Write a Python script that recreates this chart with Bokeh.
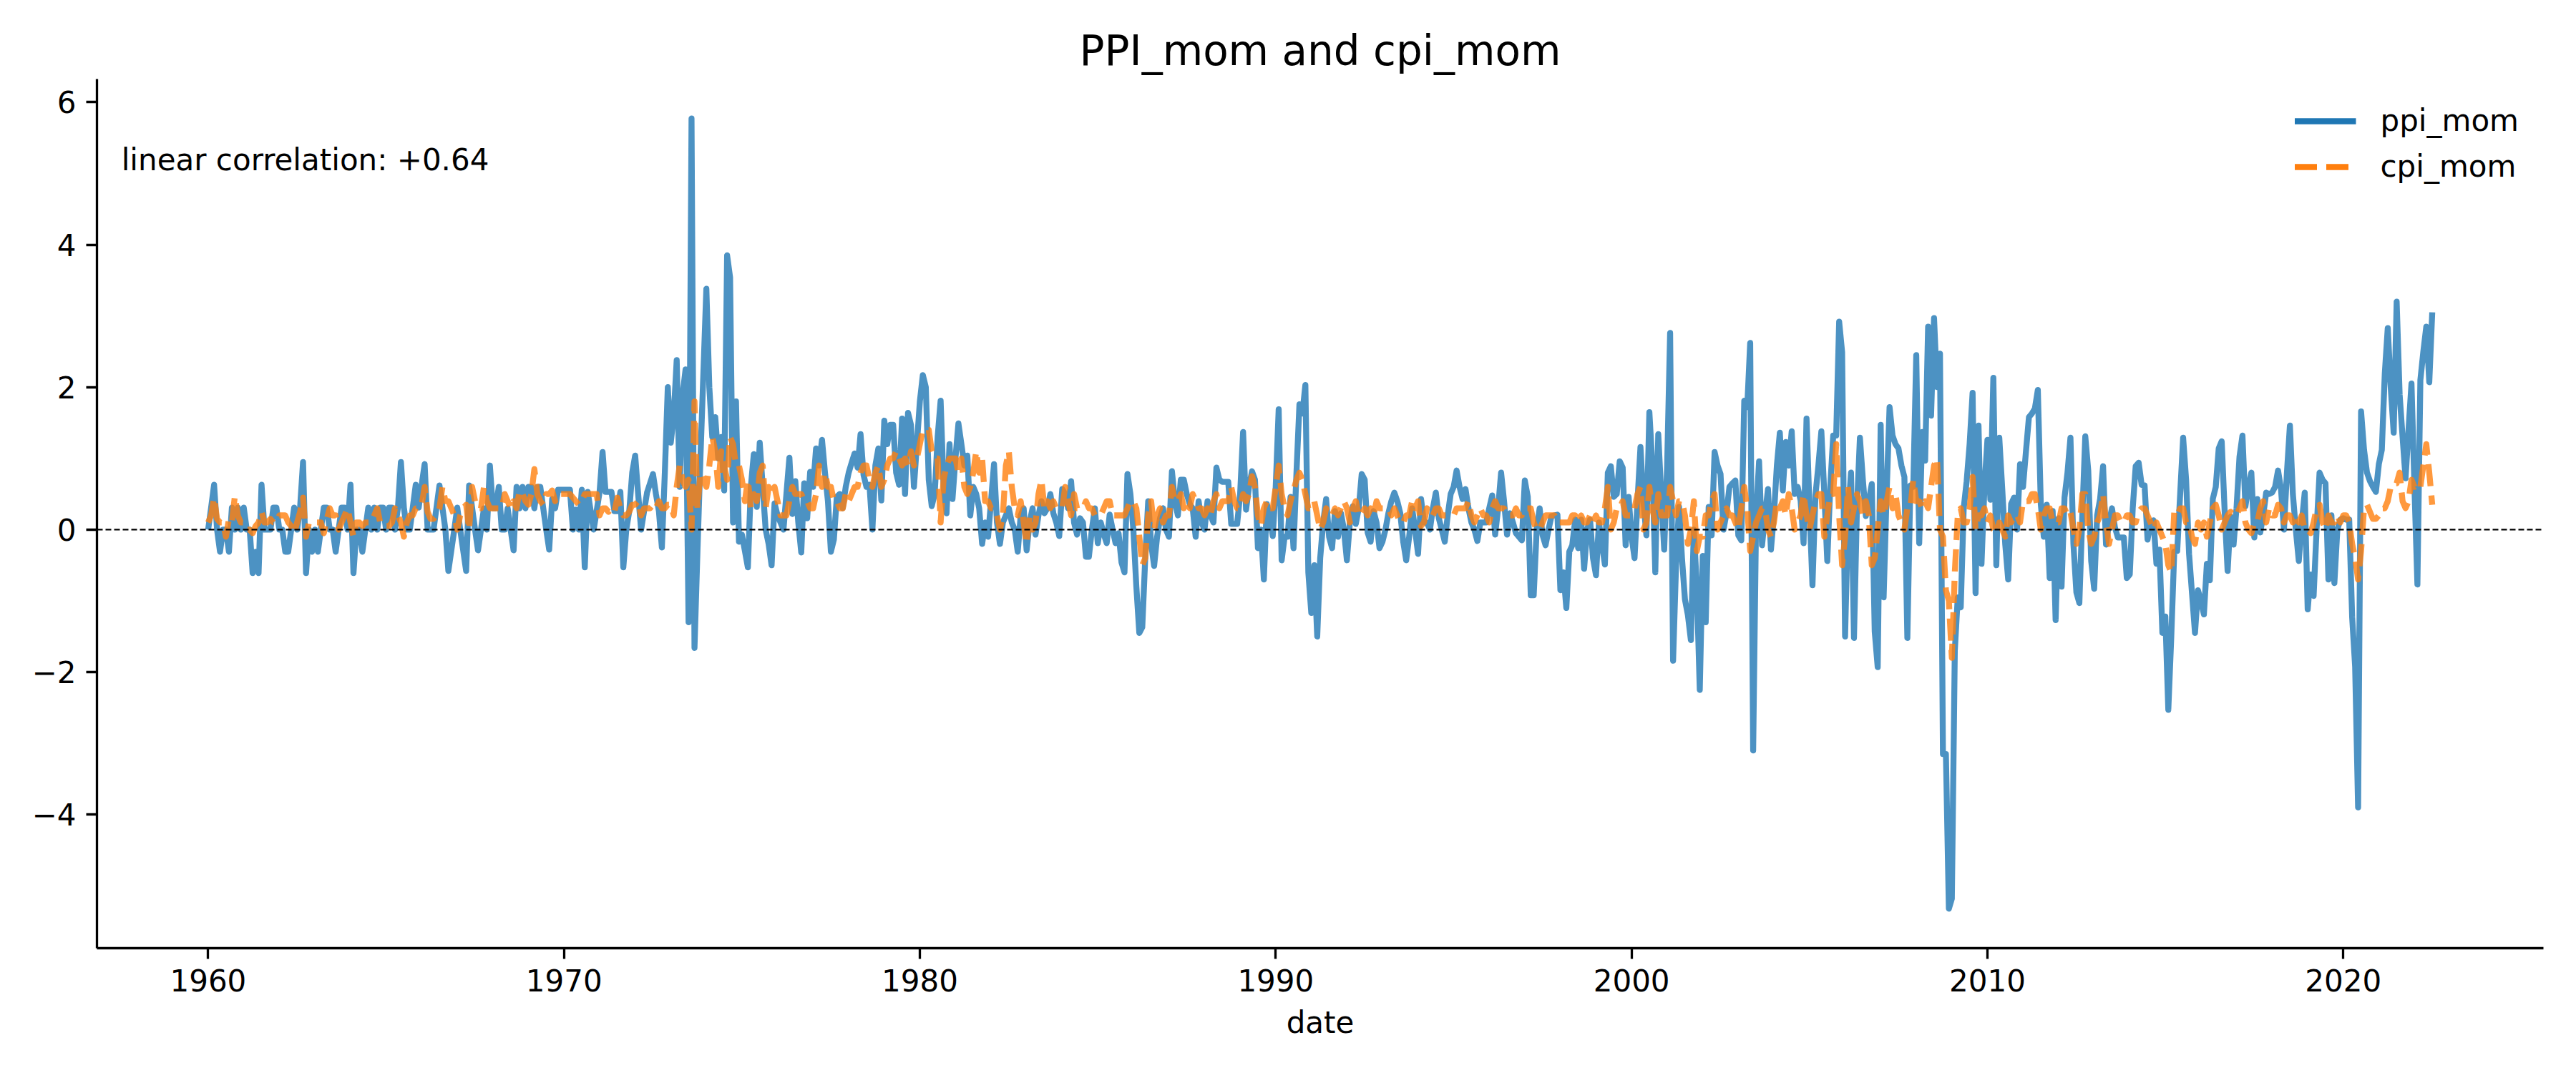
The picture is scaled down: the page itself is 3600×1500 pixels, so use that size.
from bokeh.plotting import figure
from bokeh.models import Range1d, FixedTicker, Span, Label, Legend, LegendItem
from bokeh.embed import file_html
from bokeh.resources import INLINE

# ---------------- data (monthly, % month-over-month) ----------------
start_year = 1960
title_text = "PPI_mom and cpi_mom"
corr_text = "linear correlation: +0.64"
x_label = "date"
series_names = ["ppi_mom", "cpi_mom"]
x_ticks = [1960, 1970, 1980, 1990, 2000, 2010, 2020]
y_ticks = [-4, -2, 0, 2, 4, 6]

ppi_1960s = [
    0.0, 0.31, 0.63, 0.0, -0.31, 0.0, 0.0, -0.31, 0.31, 0.0, 0.31, 0.0,
    0.31, 0.0, 0.0, -0.61, -0.31, -0.61, 0.63, 0.0, 0.0, 0.0, 0.31, 0.31,
    0.0, 0.0, -0.31, -0.31, 0.0, 0.31, 0.0, 0.31, 0.95, -0.61, 0.0, -0.31,
    0.0, -0.31, 0.0, 0.31, 0.31, 0.0, 0.0, -0.31, 0.0, 0.31, 0.31, 0.0,
    0.63, -0.61, 0.0, 0.0, -0.31, 0.0, 0.31, 0.0, 0.31, 0.0, 0.31, 0.31,
    0.0, 0.31, 0.31, 0.0, 0.31, 0.95, 0.31, 0.0, 0.0, 0.31, 0.63, 0.31,
    0.63, 0.92, 0.0, 0.0, 0.0, 0.31, 0.62, 0.31, 0.0, -0.58, -0.29, 0.0,
    0.31, 0.0, -0.29, -0.58, 0.62, 0.31, 0.0, -0.29, 0.0, 0.3, 0.0, 0.9,
    0.3, 0.3, 0.6, 0.0, 0.0, 0.3, 0.0, -0.29, 0.6, 0.3, 0.6, 0.3,
    0.6, 0.6, 0.3, 0.6, 0.6, 0.3, 0.0, -0.28, 0.43, 0.3, 0.56, 0.56,
]
ppi_1970s = [
    0.56, 0.56, 0.56, 0.0, 0.28, 0.0, 0.56, -0.53, 0.53, 0.26, 0.0, 0.26,
    0.53, 1.09, 0.53, 0.53, 0.53, 0.26, 0.26, 0.53, -0.53, 0.0, 0.26, 0.8,
    1.04, 0.5, 0.0, 0.26, 0.52, 0.65, 0.78, 0.5, 0.26, -0.25, 0.8, 2.0,
    1.22, 1.6, 2.38, 0.6, 1.9, 2.25, -1.3, 5.77, -1.66, -0.3, 1.0, 2.2,
    3.38, 2.0, 1.3, 1.58, 1.0, 1.3, 0.55, 3.85, 3.54, 0.1, 1.8, -0.17,
    -0.07, -0.3, -0.53, 0.6, 1.06, 0.32, 1.22, 0.6, 0.0, -0.2, -0.5, 0.37,
    0.2, 0.1, 0.0, 0.5, 1.01, 0.22, 0.68, 0.1, -0.32, 0.65, 0.16, 0.81,
    0.6, 1.14, 0.9, 1.26, 0.8, 0.4, -0.31, -0.14, 0.46, 0.5, 0.3, 0.6,
    0.8, 0.94, 1.07, 0.87, 1.34, 0.77, 0.6, 0.63, 0.0, 0.9, 1.14, 0.41,
    1.53, 1.2, 1.47, 1.47, 0.8, 0.63, 1.56, 0.5, 1.64, 1.47, 0.6, 1.2,
]
ppi_1980s = [
    1.8, 2.17, 2.0, 0.7, 0.33, 0.5, 1.3, 1.81, 0.6, 0.23, 1.2, 0.43,
    1.0, 1.49, 1.2, 0.9, 1.04, 0.2, 0.6, 0.5, 0.3, -0.2, 0.1, -0.1,
    0.4, 0.92, 0.1, -0.2, 0.1, 0.2, 0.3, 0.1, 0.0, -0.31, 0.2, 0.3,
    -0.29, 0.1, 0.3, -0.07, 0.2, 0.4, 0.23, 0.3, 0.5, 0.23, 0.1, -0.09,
    0.57, 0.5, 0.3, 0.68, 0.1, -0.07, 0.16, 0.1, -0.38, -0.38, 0.0, 0.3,
    -0.19, 0.1, -0.06, -0.19, 0.21, 0.0, -0.19, -0.05, -0.46, -0.6, 0.78, 0.5,
    0.0, -0.8, -1.45, -1.37, -0.4, 0.4, -0.2, -0.51, -0.1, 0.16, 0.3, 0.0,
    -0.1, 0.82, 0.4, 0.2, 0.7, 0.7, 0.5, 0.36, 0.3, -0.1, 0.4, 0.1,
    0.0, 0.4, 0.2, 0.1, 0.87, 0.7, 0.67, 0.67, 0.67, 0.08, 0.08, 0.08,
    0.5, 1.37, 0.28, 0.6, 0.82, 0.7, -0.26, 0.0, -0.7, 0.36, 0.2, -0.09,
]
ppi_1990s = [
    0.6, 1.69, -0.43, -0.1, -0.1, 0.46, -0.26, 0.8, 1.76, 1.63, 2.03, -0.6,
    -1.17, -0.5, -1.5, -0.4, 0.1, 0.43, -0.1, -0.26, 0.26, -0.1, 0.23, 0.0,
    -0.43, 0.1, 0.33, 0.08, 0.3, 0.78, 0.7, -0.04, -0.17, 0.26, 0.1, -0.26,
    -0.17, 0.0, 0.23, 0.4, 0.52, 0.4, 0.23, -0.17, -0.43, -0.1, 0.3, 0.0,
    -0.34, 0.43, 0.1, 0.1, 0.0, 0.3, 0.52, 0.16, 0.0, -0.17, 0.2, 0.5,
    0.6, 0.83, 0.6, 0.43, 0.57, 0.3, 0.1, 0.0, -0.16, 0.1, 0.1, 0.1,
    0.3, 0.48, -0.07, 0.3, 0.8, 0.4, -0.07, 0.23, 0.1, -0.05, -0.1, -0.15,
    0.69, 0.46, -0.92, -0.92, 0.0, 0.3, -0.08, -0.22, 0.0, 0.19, 0.2, 0.21,
    -0.85, -0.6, -1.1, -0.31, -0.22, 0.14, -0.26, 0.14, -0.55, 0.0, 0.14, -0.4,
    -0.64, 0.1, -0.2, -0.49, 0.8, 0.89, 0.46, 0.5, 0.96, 0.87, -0.22, 0.46,
]
ppi_2000s = [
    -0.1, -0.4, 0.4, 1.16, 0.4, -0.08, 1.65, 0.91, -0.6, 1.34, 0.5, -0.28,
    0.9, 2.76, -1.84, -0.5, 0.32, -0.4, -0.98, -1.2, -1.55, 0.0, -0.8, -2.25,
    -0.37, -1.3, 0.32, -0.08, 1.09, 0.9, 0.78, 0.0, 0.23, 0.6, 0.65, 0.69,
    -0.08, -0.15, 1.81, 1.72, 2.62, -3.1, 0.2, 0.96, -0.22, 0.2, 0.57, -0.28,
    0.2, 0.9, 1.36, 0.55, 1.23, 0.9, 1.38, 0.5, 0.6, 0.41, -0.19, 1.56,
    0.3, -0.78, 0.48, 0.9, 1.38, 0.5, -0.44, 0.6, 1.32, 1.32, 2.92, 2.49,
    -1.5, 0.2, 0.8, -1.52, 0.3, 1.29, 0.7, 0.19, 0.4, 0.64, -1.43, -1.93,
    1.47, -0.95, 0.5, 1.72, 1.32, 1.2, 1.14, 0.9, 0.74, -1.52, 0.62, 0.6,
    2.45, -0.19, 1.37, 0.97, 2.85, 1.6, 2.97, 2.0, 2.47, -3.15, -3.15, -5.32,
    -5.18, -1.7, -0.95, -1.09, 0.3, 0.68, 1.2, 1.92, -0.89, 1.46, -0.48, 0.6,
]
ppi_2010s = [
    1.26, 0.42, 2.13, -0.5, 1.29, 0.57, -0.2, -0.7, 0.36, 0.45, 0.0, 0.92,
    0.6, 1.1, 1.58, 1.63, 1.7, 1.96, 0.36, -0.1, 0.35, -0.68, 0.26, -1.27,
    0.16, -0.8, 0.45, 0.8, 1.29, -0.2, -0.88, -1.03, 0.2, 1.31, 0.83, -0.44,
    -0.83, 0.2, 0.43, 0.89, -0.21, 0.1, 0.3, 0.03, -0.11, -0.11, -0.11, -0.68,
    -0.63, 0.3, 0.89, 0.94, 0.63, 0.62, -0.14, 0.1, 0.13, -0.48, -0.28, -1.45,
    -1.22, -2.53, -1.5, -0.31, -0.3, 0.5, 1.29, 0.7, -0.34, -0.9, -1.45, -0.85,
    -1.0, -1.19, -0.48, -0.71, 0.43, 0.6, 1.14, 1.24, 0.26, -0.58, 0.18, -0.21,
    0.3, 1.02, 1.32, 0.33, 0.6, 0.8, -0.11, 0.43, -0.04, 0.2, 0.52, 0.5,
    0.52, 0.6, 0.83, 0.57, 0.0, 0.8, 1.46, 0.5, 0.0, -0.44, 0.1, 0.52,
    -1.12, -0.63, -0.93, 0.0, 0.8, 0.7, 0.65, -0.7, 0.2, -0.75, 0.0, 0.14,
]
ppi_2020s = [
    0.16, 0.14, 0.14, -1.23, -1.92, -3.9, 1.66, 1.12, 0.8, 0.68, 0.6, 0.53,
    0.92, 1.12, 2.19, 2.83, 2.0, 1.36, 3.2, 1.9, 1.3, 0.72, 1.4, 2.05,
    0.6, -0.77, 2.1, 2.5, 2.85, 2.07, 3.05,
]

cpi_1960s = [
    0.1, 0.2, 0.45, 0.15, 0.1, 0.1, -0.1, 0.15, 0.1, 0.47, 0.2, 0.1,
    0.1, 0.0, 0.0, -0.05, 0.05, 0.1, 0.25, 0.1, 0.1, 0.15, 0.1, 0.1,
    0.2, 0.2, 0.2, 0.1, 0.05, -0.05, 0.1, 0.25, 0.45, -0.1, 0.1, 0.1,
    0.1, 0.1, 0.1, -0.05, 0.15, 0.3, 0.2, 0.2, 0.0, 0.1, 0.2, 0.3,
    0.1, -0.1, 0.1, 0.1, 0.05, 0.1, 0.1, 0.1, 0.2, 0.3, 0.1, 0.1,
    0.05, 0.05, 0.1, 0.3, 0.2, 0.1, -0.1, 0.1, 0.2, 0.2, 0.3, 0.3,
    0.35, 0.6, 0.25, 0.15, 0.15, 0.2, 0.3, 0.6, 0.4, 0.4, 0.3, 0.2,
    0.0, 0.2, 0.3, 0.35, 0.0, 0.6, 0.4, 0.3, 0.3, 0.6, 0.4, 0.3,
    0.3, 0.3, 0.3, 0.3, 0.5, 0.4, 0.3, 0.4, 0.3, 0.55, 0.5, 0.4,
    0.35, 0.5, 0.85, 0.5, 0.4, 0.35, 0.5, 0.5, 0.55, 0.4, 0.5, 0.5,
]
cpi_1970s = [
    0.5, 0.5, 0.5, 0.45, 0.4, 0.35, 0.4, 0.5, 0.5, 0.5, 0.5, 0.5,
    0.2, 0.3, 0.3, 0.25, 0.3, 0.25, 0.45, 0.3, 0.2, 0.2, 0.25, 0.35,
    0.35, 0.4, 0.2, 0.3, 0.3, 0.3, 0.35, 0.3, 0.4, 0.3, 0.3, 0.35,
    0.35, 0.2, 0.6, 0.9, 0.7, 0.6, 0.7, 0.0, 1.8, 0.3, 0.8, 0.7,
    0.6, 0.9, 1.3, 1.1, 0.6, 1.1, 0.9, 0.7, 1.3, 1.2, 0.9, 0.9,
    0.7, 0.4, 0.7, 0.3, 0.5, 0.4, 0.8, 0.9, 0.3, 0.6, 0.5, 0.6,
    0.4, 0.2, 0.2, 0.2, 0.4, 0.6, 0.5, 0.5, 0.5, 0.4, 0.4, 0.3,
    0.3, 0.5, 0.9, 0.6, 0.8, 0.6, 0.6, 0.4, 0.4, 0.3, 0.3, 0.5,
    0.4, 0.5, 0.6, 0.6, 0.8, 0.9, 0.9, 0.7, 0.6, 0.8, 0.9, 0.6,
    0.7, 0.9, 1.0, 1.0, 1.1, 1.0, 0.9, 1.0, 0.9, 1.1, 0.9, 1.0,
]
cpi_1980s = [
    1.2, 1.4, 1.4, 1.4, 1.1, 1.0, 1.0, 0.1, 0.7, 0.9, 1.0, 1.0,
    1.0, 0.8, 1.0, 0.6, 0.5, 0.6, 0.8, 1.1, 0.8, 1.0, 0.4, 0.4,
    0.3, 0.3, 0.2, 0.0, 0.2, 0.9, 1.1, 0.6, 0.3, 0.2, 0.4, 0.1,
    -0.2, 0.2, 0.0, 0.1, 0.5, 0.7, 0.3, 0.4, 0.3, 0.4, 0.3, 0.3,
    0.3, 0.6, 0.4, 0.2, 0.5, 0.3, 0.3, 0.3, 0.4, 0.3, 0.3, 0.2,
    0.2, 0.2, 0.3, 0.4, 0.4, 0.2, 0.2, 0.2, 0.2, 0.2, 0.3, 0.4,
    0.4, 0.3, -0.1, -0.5, -0.4, 0.2, 0.4, 0.0, 0.2, 0.3, 0.1, 0.2,
    0.2, 0.6, 0.4, 0.4, 0.5, 0.3, 0.4, 0.3, 0.5, 0.4, 0.3, 0.3,
    0.2, 0.3, 0.2, 0.4, 0.5, 0.3, 0.4, 0.4, 0.4, 0.6, 0.4, 0.3,
    0.3, 0.5, 0.4, 0.5, 0.75, 0.6, 0.2, 0.05, 0.3, 0.4, 0.3, 0.3,
]
cpi_1990s = [
    0.6, 0.9, 0.5, 0.3, 0.2, 0.4, 0.55, 0.7, 0.8, 0.7, 0.5, 0.3,
    0.3, 0.4, 0.2, 0.0, 0.1, 0.3, 0.2, 0.2, 0.3, 0.2, 0.3, 0.4,
    0.3, 0.1, 0.3, 0.4, 0.2, 0.2, 0.3, 0.2, 0.3, 0.2, 0.4, 0.3,
    0.3, 0.3, 0.3, 0.2, 0.3, 0.2, 0.1, 0.1, 0.2, 0.2, 0.4, 0.3,
    0.4, 0.05, 0.1, 0.3, 0.2, 0.2, 0.3, 0.3, 0.2, 0.2, 0.2, 0.2,
    0.2, 0.3, 0.3, 0.3, 0.3, 0.4, 0.2, 0.1, 0.2, 0.3, 0.2, 0.2,
    0.1, 0.3, 0.4, 0.3, 0.3, 0.3, 0.2, 0.2, 0.2, 0.3, 0.2, 0.2,
    0.3, 0.3, 0.3, 0.1, 0.0, 0.0, 0.1, 0.2, 0.2, 0.2, 0.2, 0.1,
    0.1, 0.1, 0.1, 0.1, 0.2, 0.2, 0.1, 0.2, 0.1, 0.1, 0.2, 0.1,
    0.2, 0.1, 0.1, 0.3, 0.6, 0.0, 0.1, 0.3, 0.3, 0.4, 0.2, 0.2,
]
cpi_2000s = [
    0.2, 0.3, 0.5, 0.6, 0.0, 0.1, 0.6, 0.3, 0.1, 0.5, 0.2, 0.2,
    0.2, 0.6, 0.4, 0.2, 0.4, 0.4, 0.2, -0.2, 0.0, 0.4, -0.3, -0.1,
    -0.1, 0.2, 0.2, 0.4, 0.5, 0.0, 0.1, 0.2, 0.3, 0.2, 0.2, 0.1,
    0.0, 0.3, 0.6, 0.3, -0.3, -0.1, 0.1, 0.2, 0.3, 0.3, 0.0, -0.1,
    0.1, 0.4, 0.3, 0.4, 0.2, 0.5, 0.3, 0.0, 0.1, 0.2, 0.5, 0.2,
    0.0, 0.2, 0.4, 0.5, 0.5, -0.1, 0.2, 0.5, 0.5, 1.2, 0.2, -0.5,
    -0.1, 0.6, 0.1, 0.3, 0.5, 0.4, 0.2, 0.4, 0.2, -0.5, -0.4, 0.0,
    0.4, 0.2, 0.4, 0.6, 0.3, 0.5, 0.2, 0.1, 0.0, 0.3, 0.3, 0.7,
    0.4, 0.4, 0.3, 0.4, 0.3, 0.6, 0.9, 1.0, 0.0, -0.1, -0.85, -1.0,
    -1.8, -0.6, 0.2, 0.3, 0.1, 0.1, 0.3, 0.74, 0.0, 0.2, 0.2, 0.3,
]
cpi_2010s = [
    0.1, 0.2, 0.0, -0.05, 0.1, 0.0, -0.1, 0.2, 0.1, 0.2, 0.2, 0.1,
    0.4, 0.4, 0.4, 0.5, 0.5, 0.3, 0.0, 0.2, 0.3, 0.3, 0.1, 0.1,
    0.1, 0.3, 0.3, 0.2, 0.25, 0.0, -0.2, 0.0, 0.5, 0.5, 0.0, -0.2,
    -0.1, 0.1, 0.2, 0.5, 0.1, -0.2, 0.0, 0.2, 0.2, 0.1, 0.1, 0.2,
    0.2, 0.1, 0.1, 0.25, 0.3, 0.3, 0.2, 0.1, 0.0, 0.1, 0.0, -0.1,
    -0.2, -0.5, -0.6, 0.25, 0.2, 0.3, 0.3, 0.1, 0.1, -0.1, -0.2, 0.1,
    0.0, 0.1, -0.1, 0.1, 0.3, 0.35, 0.2, 0.0, 0.1, 0.2, 0.25, 0.2,
    0.2, 0.3, 0.4, 0.1, 0.0, -0.05, 0.1, 0.1, 0.3, 0.4, 0.1, 0.3,
    0.2, 0.2, 0.35, 0.3, 0.1, 0.2, 0.2, 0.1, 0.2, 0.1, 0.2, 0.0,
    0.0, -0.05, 0.1, 0.3, 0.35, 0.1, 0.0, 0.2, 0.1, 0.1, 0.2, 0.1,
]
cpi_2020s = [
    0.2, 0.2, 0.1, -0.2, -0.4, -0.7, -0.3, 0.3, 0.35, 0.25, 0.15, 0.15,
    0.2, 0.3, 0.3, 0.4, 0.6, 0.65, 0.65, 0.8, 0.4, 0.3, 0.4, 0.7,
    0.6, 0.65, 0.6, 0.9, 1.2, 0.8, 0.35,
]

ppi_mom = ppi_1960s + ppi_1970s + ppi_1980s + ppi_1990s + ppi_2000s + ppi_2010s + ppi_2020s
cpi_mom = cpi_1960s + cpi_1970s + cpi_1980s + cpi_1990s + cpi_2000s + cpi_2010s + cpi_2020s
n = min(len(ppi_mom), len(cpi_mom))
ppi_mom = ppi_mom[:n]
cpi_mom = cpi_mom[:n]
dates = [start_year + i / 12.0 for i in range(n)]

# ---------------- ranges (5% margins like matplotlib) ----------------
ylo = min(min(ppi_mom), min(cpi_mom))
yhi = max(max(ppi_mom), max(cpi_mom))
ypad = 0.05 * (yhi - ylo)
xlo, xhi = dates[0], dates[-1]
xpad = 0.05 * (xhi - xlo)
x_range = Range1d(xlo - xpad, xhi + xpad)
y_range = Range1d(ylo - ypad, yhi + ypad)

FONT = "DejaVu Sans"
BLUE = "#1f77b4"
ORANGE = "#ff7f0e"
LW = 8.3
DASH = "31 13"

p = figure(
    width=3600, height=1500, output_backend="svg", toolbar_location=None,
    x_range=x_range, y_range=y_range,
    min_border_left=135, min_border_right=46, min_border_top=110, min_border_bottom=175,
)
p.outline_line_color = None
p.grid.visible = False
p.background_fill_color = "white"
p.border_fill_color = "white"

p.title.text = title_text
p.title.align = "center"
p.title.text_font = FONT
p.title.text_font_size = "58px"
p.title.text_font_style = "normal"
p.title.text_color = "black"
p.title.standoff = 12

for ax in (p.xaxis[0], p.yaxis[0]):
    ax.axis_line_width = 3.3
    ax.axis_line_color = "black"
    ax.major_tick_line_width = 3.3
    ax.major_tick_line_color = "black"
    ax.major_tick_out = 15
    ax.major_tick_in = 0
    ax.minor_tick_line_color = None
    ax.major_label_text_font = FONT
    ax.major_label_text_font_size = "42px"
    ax.major_label_text_color = "black"
    ax.major_label_standoff = 14

p.xaxis.ticker = FixedTicker(ticks=x_ticks)
p.yaxis.ticker = FixedTicker(ticks=y_ticks)
p.yaxis.major_label_overrides = {t: (("\u2212" + str(abs(t))) if t < 0 else str(t)) for t in y_ticks}
p.xaxis.axis_label = x_label
p.xaxis.axis_label_text_font = FONT
p.xaxis.axis_label_text_font_size = "42px"
p.xaxis.axis_label_text_font_style = "normal"
p.xaxis.axis_label_text_color = "black"
p.xaxis.axis_label_standoff = 16

# series
p.line(dates, ppi_mom, line_color=BLUE, line_alpha=0.8, line_width=LW, line_join="round")
p.line(dates, cpi_mom, line_color=ORANGE, line_alpha=0.8, line_width=LW, line_join="round",
       line_dash=DASH)

# zero reference line
p.add_layout(Span(location=0, dimension="width", line_color="black", line_width=2.1,
                  line_dash="8 4"))

# legend handles at full opacity (single-point lines draw nothing in the plot area)
leg_ppi = p.line(dates[:1], ppi_mom[:1], line_color=BLUE, line_width=LW)
leg_cpi = p.line(dates[:1], cpi_mom[:1], line_color=ORANGE, line_width=LW, line_dash=DASH)
legend = Legend(
    items=[LegendItem(label=series_names[0], renderers=[leg_ppi]),
           LegendItem(label=series_names[1], renderers=[leg_cpi])],
    location="top_right", border_line_color=None, background_fill_alpha=0.0,
    label_text_font=FONT, label_text_font_size="42px", label_text_color="black",
    glyph_width=86, glyph_height=42, label_height=42, label_standoff=34,
    spacing=15, padding=20, margin=34,
)
p.add_layout(legend)

# correlation annotation
xs, xe = x_range.start, x_range.end
ys, ye = y_range.start, y_range.end
p.add_layout(Label(
    x=xs + 0.01 * (xe - xs), y=ys + 0.907 * (ye - ys), text=corr_text,
    text_font=FONT, text_font_size="42px", text_color="black",
    text_align="left", text_baseline="middle",
))

open("out.html", "w").write(file_html(p, INLINE, title=title_text))
